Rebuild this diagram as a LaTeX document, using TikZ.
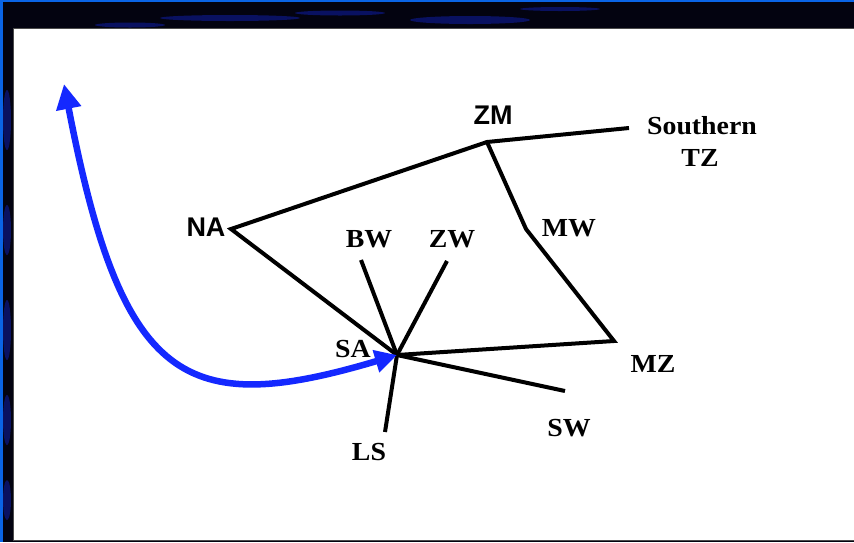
\documentclass[tikz,border=0pt]{standalone}
\usepackage{fontspec}
\setmainfont{Liberation Serif}
\newfontfamily\arialfont{Liberation Sans}
\usetikzlibrary{arrows.meta}
\definecolor{bgdark}{RGB}{3,3,16}
\definecolor{edgeblue}{RGB}{10,100,230}
\definecolor{streak}{RGB}{20,40,220}
\definecolor{arrowblue}{RGB}{20,40,255}
\tikzset{
  sanslab/.style={inner sep=0pt, font=\arialfont\bfseries\fontsize{27}{30}\selectfont},
  seriflab/.style={inner sep=0pt, xscale=1.07, font=\bfseries\fontsize{26}{30}\selectfont},
  link/.style={line width=4pt, black},
  flow/.style={line width=6.5pt, arrowblue, {Triangle[length=25pt,width=24pt]}-{Triangle[length=22pt,width=22pt]}}
}
\begin{document}
\begin{tikzpicture}[x=1pt,y=-1pt]
\useasboundingbox (0,0) rectangle (854,542);
% background
\fill[bgdark] (0,0) rectangle (854,542);
\begin{scope}[opacity=0.4]
\fill[streak] (230,18) ellipse (70 and 3);
\fill[streak] (340,13) ellipse (45 and 2.5);
\fill[streak] (470,20) ellipse (60 and 4);
\fill[streak] (560,9) ellipse (40 and 2);
\fill[streak] (130,25) ellipse (35 and 2.5);
\fill[streak] (7,120) ellipse (4 and 30);
\fill[streak] (7,230) ellipse (4 and 25);
\fill[streak] (7,330) ellipse (4 and 30);
\fill[streak] (7,420) ellipse (4 and 25);
\fill[streak] (7,500) ellipse (4 and 20);
\end{scope}
\fill[edgeblue] (0,0) rectangle (854,1.5);
\fill[edgeblue] (0,0) rectangle (2.5,542);
\filldraw[fill=white, draw=black!70, line width=0.6pt] (13,28) rectangle (854,540.5);

% graph vertices
\coordinate (na) at (231,229);
\coordinate (zm) at (487,142);
\coordinate (tz) at (629,128);
\coordinate (mw) at (526,229);
\coordinate (mz) at (614,341);
\coordinate (sa) at (397,355);
\coordinate (bw) at (361,260);
\coordinate (zw) at (447,261);
\coordinate (sw) at (565,391);
\coordinate (ls) at (385,432);
\coordinate (top) at (64,84);

% connectors
\draw[link] (tz) -- (zm) -- (na) -- (sa);
\draw[link] (zm) -- (mw) -- (mz) -- (sa);
\draw[link] (bw) -- (sa);
\draw[link] (zw) -- (sa);
\draw[link] (sa) -- (sw);
\draw[link] (sa) -- (ls);
\draw[flow] (top) .. controls (122,385) and (185,418) .. (sa);

% labels
\node[sanslab] (lzm) at (493,115) {ZM};
\node[sanslab] (lna) at (206,227) {NA};
\node[seriflab, anchor=base] (lsouth) at (702,134) {Southern};
\node[seriflab, anchor=base] (ltz) at (700,166) {TZ};
\node[seriflab] (lbw) at (369,239) {BW};
\node[seriflab] (lzw) at (452,239) {ZW};
\node[seriflab] (lmw) at (569,228) {MW};
\node[seriflab] (lsa) at (353,349) {SA};
\node[seriflab] (lmz) at (653,364) {MZ};
\node[seriflab] (lsw) at (569,428) {SW};
\node[seriflab] (lls) at (369,452) {LS};
\end{tikzpicture}
\end{document}
